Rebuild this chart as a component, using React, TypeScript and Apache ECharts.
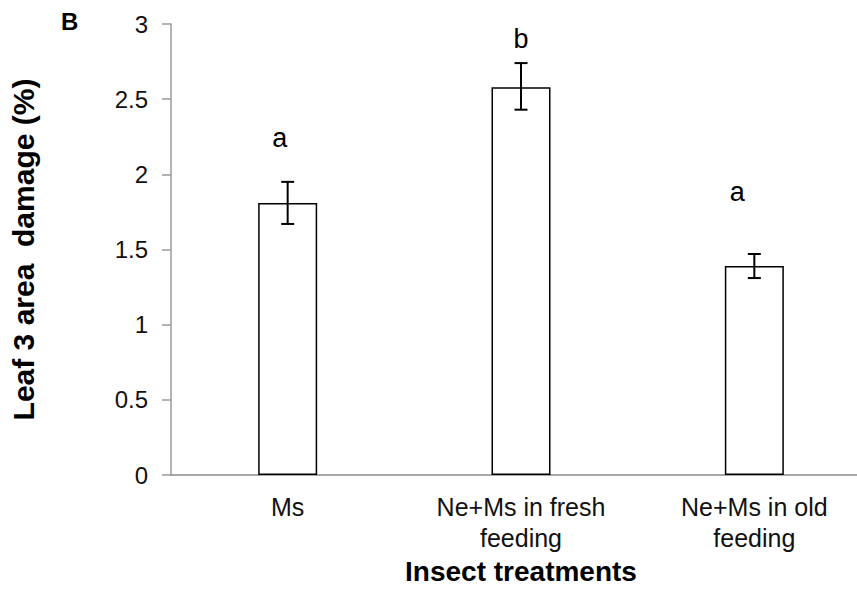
import React, { useEffect, useRef } from "react";
import * as echarts from "echarts";

const categories = ["Ms", "Ne+Ms in fresh\nfeeding", "Ne+Ms in old\nfeeding"];
const means = [1.81, 2.58, 1.39];
const errLow = [1.67, 2.43, 1.31];
const errHigh = [1.95, 2.74, 1.47];
const sigLetters = ["a", "b", "a"];
const letterY = [2.245, 2.9, 1.881];
const letterDx = [-8, 0, -17];
const yTicks = [0, 0.5, 1, 1.5, 2, 2.5, 3];

const FONT = "Liberation Sans, Arial, sans-serif";

export default function App() {
  const ref = useRef<HTMLDivElement>(null);
  useEffect(() => {
    if (!ref.current) return;
    const chart = echarts.init(ref.current, null, { renderer: "svg" });
    const errData = categories.map((_, i) => [i, errLow[i], errHigh[i]]);
    chart.setOption({
      animation: false,
      backgroundColor: "#ffffff",
      textStyle: { fontFamily: FONT },
      grid: { left: 171, top: 24, width: 700, height: 451 },
      graphic: [
        {
          type: "text",
          x: 61,
          y: 9,
          style: {
            text: "B",
            font: "bold 24px Liberation Sans, Arial, sans-serif",
            fill: "#000",
            textAlign: "left",
            textVerticalAlign: "top",
          },
        },
      ],
      xAxis: {
        type: "category",
        data: categories,
        axisLine: { show: true, lineStyle: { color: "#8a8a8a", width: 1.5 } },
        axisTick: { show: false },
        axisLabel: {
          fontSize: 25,
          lineHeight: 31,
          margin: 16,
          color: "#111",
          fontFamily: FONT,
          interval: 0,
        },
        name: "Insect treatments",
        nameLocation: "middle",
        nameGap: 82,
        nameTextStyle: { fontSize: 28, fontWeight: "bold", color: "#000", fontFamily: FONT },
      },
      yAxis: {
        type: "value",
        min: yTicks[0],
        max: yTicks[yTicks.length - 1],
        interval: 0.5,
        axisLine: { show: true, lineStyle: { color: "#9a9a9a", width: 1.5 } },
        axisTick: { show: true, inside: false, length: 9, lineStyle: { color: "#9a9a9a", width: 1.5 } },
        splitLine: { show: false },
        axisLabel: { fontSize: 24, color: "#111", margin: 23, fontFamily: FONT },
        name: "Leaf 3 area  damage (%)",
        nameLocation: "middle",
        nameGap: 133,
        nameRotate: 90,
        nameTextStyle: { fontSize: 30, fontWeight: "bold", color: "#000", fontFamily: FONT },
      },
      series: [
        {
          type: "bar",
          data: means,
          barWidth: 59,
          itemStyle: { color: "#ffffff", borderColor: "#000", borderWidth: 1.5 },
          z: 2,
        },
        {
          type: "custom",
          data: errData,
          encode: { x: 0, y: [1, 2] },
          z: 5,
          renderItem: (params: any, api: any) => {
            const i = api.value(0);
            const lo = api.coord([i, api.value(1)]);
            const hi = api.coord([i, api.value(2)]);
            const lt = api.coord([i, letterY[i]]);
            const half = 6.5;
            const ls = { stroke: "#000", lineWidth: 2 };
            return {
              type: "group",
              children: [
                { type: "line", shape: { x1: hi[0], y1: hi[1], x2: lo[0], y2: lo[1] }, style: ls },
                { type: "line", shape: { x1: hi[0] - half, y1: hi[1], x2: hi[0] + half, y2: hi[1] }, style: ls },
                { type: "line", shape: { x1: lo[0] - half, y1: lo[1], x2: lo[0] + half, y2: lo[1] }, style: ls },
                {
                  type: "text",
                  x: lt[0] + letterDx[i],
                  y: lt[1],
                  style: {
                    text: sigLetters[i],
                    fontSize: 27,
                    fontFamily: FONT,
                    fill: "#000",
                    textAlign: "center",
                    textVerticalAlign: "middle",
                  },
                },
              ],
            };
          },
        },
      ],
    });
    return () => chart.dispose();
  }, []);
  return (
    <div
      style={{
        position: "absolute",
        left: 0,
        top: 0,
        width: 857,
        height: 593,
        overflow: "hidden",
      }}
    >
      <div ref={ref} style={{ width: 880, height: 593 }} />
    </div>
  );
}
